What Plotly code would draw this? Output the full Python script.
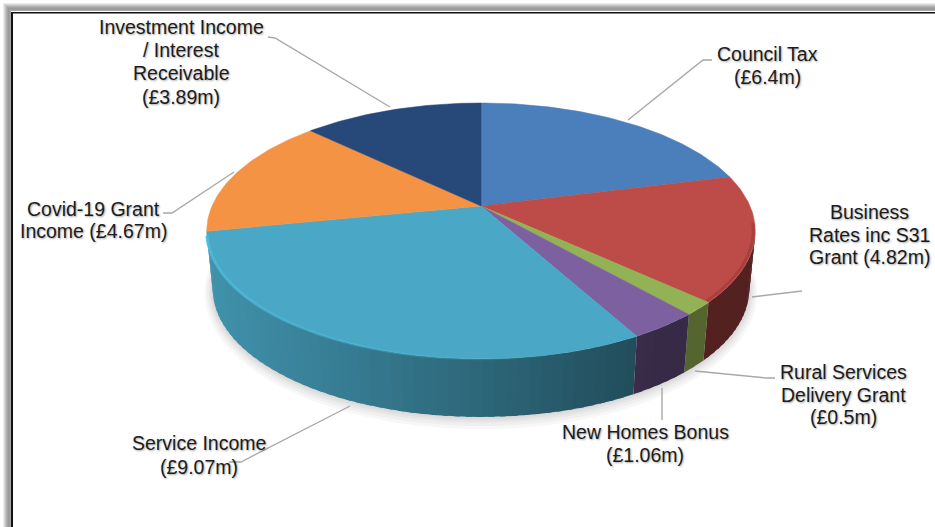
import math
import plotly.graph_objects as go

# ---- data ----
categories = ["Council Tax", "Business Rates inc S31 Grant", "Rural Services Delivery Grant",
              "New Homes Bonus", "Service Income", "Covid-19 Grant Income",
              "Investment Income / Interest Receivable"]
values = [6.4, 4.82, 0.5, 1.06, 9.07, 4.67, 3.89]
top_colors = ["#4a7fbb", "#bd4c49", "#93b255", "#7d60a0", "#4aa8c6", "#f49344", "#27497a"]
wall_gain = [1.0, 1.0, 1.3, 1.0, 1.0, 1.0, 1.0]

label_lines = [
    ["Council Tax", "(£6.4m)"],
    ["Business", "Rates inc S31", "Grant (4.82m)"],
    ["Rural Services", "Delivery Grant", "(£0.5m)"],
    ["New Homes Bonus", "(£1.06m)"],
    ["Service Income", "(£9.07m)"],
    ["Covid-19 Grant", "Income (£4.67m)"],
    ["Investment Income", "/ Interest", "Receivable", "(£3.89m)"],
]
label_x = [767, 869, 843, 645, 199, 93, 181]
label_y = [[54, 77], [212, 234.5, 257], [372, 395, 417], [432, 455], [443, 467], [209, 231], [27, 50, 73, 97]]
leaders = [
    [(712, 60), (703, 60), (628, 120)],
    [(802, 291), (752, 297)],
    [(775, 378), (766, 378), (695, 371)],
    [(662, 420), (662, 388)],
    [(350, 406), (241, 462), (229, 462)],
    [(163, 213), (172, 213), (234, 172)],
    [(268, 37), (275, 38), (390, 107)],
]

# ---- pie geometry (perspective view of a disc) ----
CX, CY, R, H, PERSP, DEPTH, BOTTOM_SCALE = 481, 206, 269, 123.1, 0.195, 58, 0.978
WALL_FROM, WALL_TO = 100.0, 259.0


def rim(theta_deg, grow=0.0):
    t = math.radians(theta_deg)
    x, y = math.sin(t), math.cos(t)
    d = 1 + PERSP * y
    return CX + (R + grow) * x / d, CY - (H + grow) * y / d


def floor(theta_deg, grow=0.0):
    px, py = rim(theta_deg, grow)
    return CX + (px - CX) * BOTTOM_SCALE, py + DEPTH


def scale(hex_color, f):
    r, g, b = [int(hex_color[i:i + 2], 16) for i in (1, 3, 5)]
    return f"rgb({int(r * f)},{int(g * f)},{int(b * f)})"


def frange(a, b, step):
    n = max(2, int(abs(b - a) / step) + 1)
    return [a + (b - a) * i / (n - 1) for i in range(n)]


total = sum(values)
bounds = [0.0]
for v in values:
    bounds.append(bounds[-1] + v / total * 360)

fig = go.Figure()


def poly(xs, ys, color, line_color=None, lw=0.0):
    fig.add_trace(go.Scatter(x=xs, y=ys, mode="lines", fill="toself", fillcolor=color,
                             line=dict(color=line_color or color, width=lw),
                             hoverinfo="skip", showlegend=False))


def path(pts, color, width):
    fig.add_trace(go.Scatter(x=[p[0] for p in pts], y=[p[1] for p in pts], mode="lines",
                             line=dict(color=color, width=width), hoverinfo="skip", showlegend=False))


# soft shadow below the disc
for g in (8, 6, 4, 2.5, 1):
    pts = [floor(a, g) for a in frange(90, 270, 3)]
    poly([p[0] for p in pts], [p[1] + g * 0.3 for p in pts], "rgba(0,0,0,0.03)", "rgba(0,0,0,0)")

# side wall, shaded across its width
for i, col in enumerate(top_colors):
    a0, a1 = max(bounds[i], WALL_FROM), min(bounds[i + 1], WALL_TO)
    if a1 <= a0:
        continue
    angles = frange(a0, a1, 2.0)
    for s, e in zip(angles[:-1], angles[1:]):
        over = min(e + 1.0, a1)
        top1, top2 = rim(s), rim(over)
        bot1, bot2 = floor(s), floor(over)
        mid = (top1[0] + top2[0]) / 2
        f = max(0.44, 0.87 - (mid - 207) * 0.00095) * wall_gain[i]
        poly([top1[0], top2[0], bot2[0], bot1[0]], [top1[1], top2[1], bot2[1], bot1[1]], scale(col, f))

# top face: one fan per category
for i, col in enumerate(top_colors):
    pts = [rim(a) for a in frange(bounds[i], bounds[i + 1], 1.0)]
    poly([CX] + [p[0] for p in pts] + [CX], [CY] + [p[1] for p in pts] + [CY], col, col, 0.5)

# bevel along the front rim, fading towards the right
service = 4
arc = frange(bounds[service + 1] - 2.0, 165, 3.0)
for s, e in zip(arc[:-1], arc[1:]):
    a = 0.95 * (e - 165) / (arc[0] - 165)
    path([rim(s, 0), rim(e, 0)], f"rgba(77,187,220,{a:.2f})", 3)
path([rim(a, -2) for a in frange(bounds[1] + 22, bounds[2], 1.0)], "rgba(90,25,25,0.22)", 3)

# leader lines
for pts in leaders:
    path(pts, "#a8a8a8", 1.4)

# frame with drop shadow
shapes = []
for k, c in enumerate(["#ececec", "#d8d8d8", "#c4c4c4", "#b2b2b2", "#a4a4a4", "#9a9a9a", "#9c9c9c", "#a8a8a8"]):
    shapes.append(dict(type="rect", x0=3 + k, x1=4 + k, y0=3 + k, y1=527, fillcolor=c, line_width=0, layer="below"))
    shapes.append(dict(type="rect", x0=3 + k, x1=935, y0=3 + k, y1=4 + k, fillcolor=c, line_width=0, layer="below"))
shapes.append(dict(type="rect", x0=11, x1=13, y0=12, y1=527, fillcolor="#111111", line_width=0, layer="below"))
shapes.append(dict(type="rect", x0=11, x1=935, y0=12, y1=13.5, fillcolor="#111111", line_width=0, layer="below"))

annotations = []
for lines, x, ys in zip(label_lines, label_x, label_y):
    for text, y in zip(lines, ys):
        annotations.append(dict(x=x, y=y, text=text, showarrow=False, xanchor="center", yanchor="middle",
                                font=dict(family="Liberation Sans, Arial, sans-serif", size=19.5, color="#1c1c1c",
                                          shadow="1px 1px 2px rgba(0,0,0,0.35)")))

fig.update_layout(
    width=935, height=527, margin=dict(l=0, r=0, t=0, b=0),
    paper_bgcolor="white", plot_bgcolor="white", showlegend=False,
    xaxis=dict(range=[0, 935], visible=False, fixedrange=True),
    yaxis=dict(range=[527, 0], visible=False, fixedrange=True),
    shapes=shapes, annotations=annotations,
)
fig.write_html("out.html", config={"displayModeBar": False},
               post_script="document.body.style.margin='0';document.documentElement.style.overflow='hidden';")
